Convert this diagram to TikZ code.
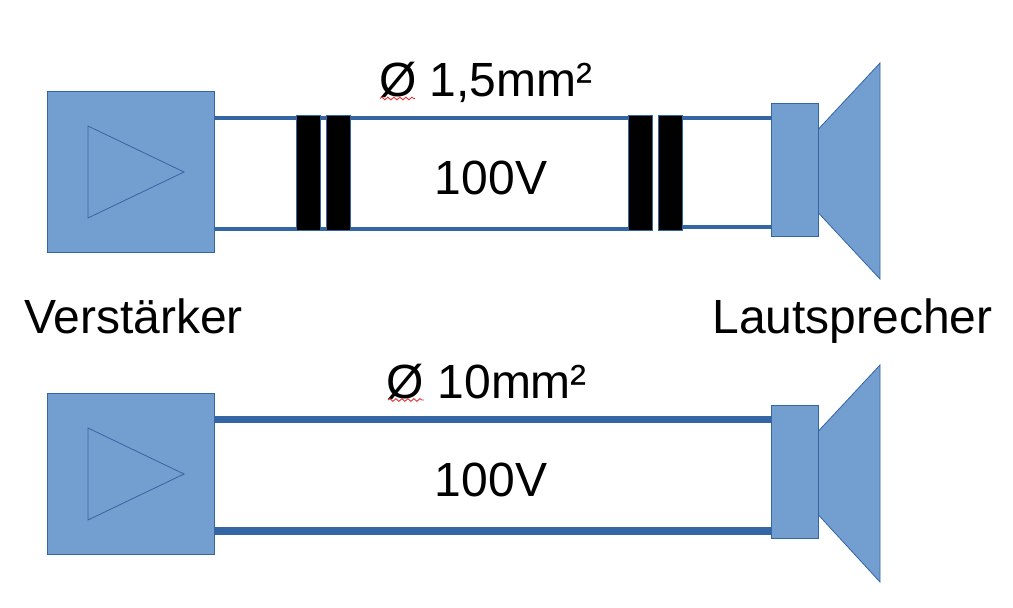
\documentclass[tikz,border=0pt]{standalone}
\usepackage{fontspec}
\setmainfont{Liberation Sans}
\usepackage{tikz}
\usetikzlibrary{positioning,decorations.pathmorphing}
\definecolor{boxblue}{RGB}{114,159,207}
\definecolor{wireblue}{RGB}{52,101,164}
\definecolor{squiggle}{RGB}{230,50,50}
\tikzstyle{box} = [rectangle, draw=wireblue, fill=boxblue, line width=0.8pt, inner sep=0pt, outer sep=0pt]
\tikzstyle{amp} = [box, minimum width=167.5pt, minimum height=161pt]
\tikzstyle{magnet} = [box, minimum width=47.5pt, minimum height=133pt]
\tikzstyle{core} = [rectangle, draw=wireblue, fill=black, line width=0.8pt, inner sep=0pt, outer sep=0pt, minimum width=24pt, minimum height=115pt]
\tikzstyle{wire} = [draw=wireblue, line width=4pt]
\tikzstyle{fatwire} = [draw=wireblue, line width=7.5pt]
\tikzstyle{label} = [font=\fontsize{48}{50}\selectfont, inner sep=0pt, anchor=base, text=black]
\tikzstyle{spell} = [draw=squiggle, line width=0.9pt, decorate, decoration={snake, amplitude=1.4pt, segment length=6pt}]

\begin{document}
\begin{tikzpicture}[x=1pt, y=-1pt]
\useasboundingbox (0,0) rectangle (1013,608);
% Upper line with transformers
\coordinate (ampatop) at (215,117.5);
\coordinate (ampabot) at (215,229);
\coordinate (magatop) at (772,117.5);
\coordinate (magabot) at (772,226.5);
\coordinate (corebtop) at (340,117.5);
\coordinate (corebbot) at (340,229);
\coordinate (corectop) at (640,117.5);
\coordinate (corecbot) at (640,229);
\coordinate (coredtop) at (672,117.5);
\coordinate (coredbot) at (672,226.5);

\draw[wire] (ampatop) -- (corebtop);
\draw[wire] (ampabot) -- (corebbot);
\draw[wire] (corebtop) -- (corectop);
\draw[wire] (corebbot) -- (corecbot);
\draw[wire] (coredtop) -- (magatop);
\draw[wire] (coredbot) -- (magabot);

\node[core] (corea) at (308.5,172.5) {};
\node[core] (coreb) at (338.5,172.5) {};
\node[core] (corec) at (640.8,172.5) {};
\node[core] (cored) at (670.8,172.5) {};

\node[amp] (ampa) at (130.8,171.5) {};
\draw[draw=wireblue, line width=0.8pt] (88,126) -- (184,172) -- (88,218) -- cycle;

\node[magnet] (maga) at (794.8,169.5) {};
\draw[box] (818.5,129) -- (880,63) -- (880,279) -- (818.5,213) -- cycle;

% Lower line without transformers
\coordinate (ampbtop) at (215,419.5);
\coordinate (ampbbot) at (215,531);
\coordinate (magbtop) at (772,419.5);
\coordinate (magbbot) at (772,531);

\draw[fatwire] (ampbtop) -- (magbtop);
\draw[fatwire] (ampbbot) -- (magbbot);

\node[amp] (ampb) at (130.8,474) {};
\draw[draw=wireblue, line width=0.8pt] (88,428) -- (184,474) -- (88,520) -- cycle;

\node[magnet] (magb) at (794.8,471.5) {};
\draw[box] (818.5,431) -- (880,365) -- (880,582) -- (818.5,515) -- cycle;

% Labels
\node[label] (sizea) at (486,96) {Ø 1,5mm²};
\node[label] (volta) at (491,194) {100V};
\node[label] (ampname) at (133.5,333) {Verstärker};
\node[label] (spkname) at (852.5,333) {Lautsprecher};
\node[label] (sizeb) at (487,398) {Ø 10mm²};
\node[label] (voltb) at (491,496) {100V};

\draw[spell] (380,98.5) -- (415,98.5);
\draw[spell] (388,400) -- (424,400);
\end{tikzpicture}
\end{document}
